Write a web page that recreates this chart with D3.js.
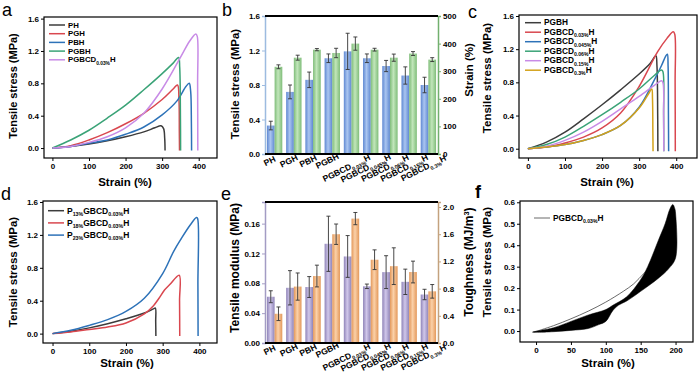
<!DOCTYPE html>
<html>
<head>
<meta charset="utf-8">
<script src="https://cdn.jsdelivr.net/npm/d3@7"></script>
<style>
body { margin: 0; background: #fff; }
svg { font-family: "Liberation Sans", Arial, sans-serif; }
</style>
</head>
<body>
<svg id="fig" width="700" height="385"></svg>
<script>
// ---- panel a: stress-strain curves [strain %, stress MPa]
let aPH    = [[0,0],[50,0.02],[100,0.05],[150,0.09],[200,0.14],[250,0.2],[280,0.25],[297,0.275],[304,0.24],[307,0.12],[308,-0.03]];
let aPGH   = [[0,0],[50,0.03],[100,0.1],[150,0.19],[200,0.3],[250,0.43],[300,0.6],[330,0.73],[342,0.78],[346,0.6],[347,0.2],[347.5,-0.03]];
let aPBH   = [[0,0],[50,0.02],[100,0.06],[150,0.1],[200,0.17],[250,0.26],[300,0.41],[340,0.58],[365,0.76],[374,0.8],[378,0.7],[380,0.3],[380.5,-0.03]];
let aPGBH  = [[0,0],[50,0.1],[100,0.22],[150,0.37],[200,0.53],[250,0.72],[300,0.92],[330,1.05],[345,1.12],[348,1.0],[350,0.4],[350.5,-0.03]];
let aPGBCD = [[0,0],[50,0.02],[100,0.07],[150,0.14],[200,0.25],[250,0.43],[300,0.73],[350,1.12],[375,1.32],[392,1.41],[396,1.38],[397,0.8],[397.5,-0.03]];

// ---- panel c
let cPGBH  = [[0,0],[50,0.08],[100,0.2],[150,0.36],[200,0.53],[250,0.71],[300,0.9],[330,1.03],[345,1.12],[348,1.0],[350,0.4],[350.5,-0.03]];
let c003   = [[0,0],[50,0.02],[100,0.07],[150,0.14],[200,0.25],[250,0.43],[300,0.75],[350,1.17],[375,1.33],[392,1.41],[396,1.38],[397,0.8],[397.5,-0.03]];
let c0045  = [[0,0],[50,0.02],[100,0.05],[150,0.1],[200,0.17],[250,0.28],[300,0.5],[340,0.82],[360,1.0],[372,1.12],[376,1.14],[378,1.0],[379,0.4],[379.5,-0.03]];
let c006   = [[0,0],[50,0.05],[100,0.14],[150,0.27],[200,0.41],[250,0.56],[300,0.72],[340,0.88],[360,0.95],[364,0.93],[366,0.4],[366.5,-0.03]];
let c015   = [[0,0],[50,0.03],[100,0.1],[150,0.2],[200,0.33],[250,0.48],[300,0.63],[340,0.76],[360,0.82],[364,0.8],[366,0.4],[366.5,-0.03]];
let c03    = [[0,0],[50,0.02],[100,0.05],[150,0.1],[200,0.17],[250,0.28],[300,0.49],[325,0.66],[334,0.72],[336,0.6],[337,0.2],[337.5,-0.03]];

// ---- panel d
let dP13 = [[0,0],[50,0.03],[100,0.07],[150,0.12],[200,0.18],[250,0.25],[275,0.3],[280,0.31],[281,0.15],[281.5,-0.03]];
let dP18 = [[0,0],[50,0.02],[100,0.05],[150,0.08],[200,0.13],[250,0.24],[275,0.34],[290,0.43],[305,0.53],[320,0.6],[345,0.71],[346,0.4],[346.5,-0.03]];
let dP23 = [[0,0],[50,0.04],[100,0.1],[150,0.17],[200,0.27],[250,0.43],[300,0.73],[330,1.0],[350,1.15],[375,1.32],[392,1.41],[395,1.4],[396,0.6],[396.5,-0.03]];

// ---- panel f: cyclic test, loading line and envelope of the filled loops
let fLine  = [[-3,-0.005],[25,0.025],[50,0.057],[75,0.093],[100,0.135],[125,0.185],[140,0.22],[155,0.27],[165,0.3]];
let fUpper = [[-5,-0.005],[25,0.015],[50,0.045],[75,0.075],[100,0.1],[110,0.12],[130,0.16],[150,0.24],[160,0.3],[175,0.42],[185,0.5],[192,0.57],[196,0.59],[199,0.57]];
let fLower = [[200,0.55],[200,0.34],[190,0.29],[175,0.245],[150,0.185],[130,0.14],[118,0.12],[110,0.095],[100,0.045],[90,0.03],[75,0.012],[50,0.003],[25,-0.003],[0,-0.006]];

// ---- panels b and e: bar data
let categories = ["PH", "PGH", "PBH", "PGBH", "PGBCD_{0.03%}H", "PGBCD_{0.045%}H", "PGBCD_{0.06%}H", "PGBCD_{0.15%}H", "PGBCD_{0.3%}H"];
let stressMean   = [0.33, 0.72, 0.86, 1.11, 1.19, 1.11, 1.02, 0.91, 0.80];
let stressErr    = [0.05, 0.08, 0.09, 0.05, 0.21, 0.05, 0.065, 0.10, 0.09];
let strainMean   = [316, 349, 378, 366, 400, 378, 349, 364, 342];
let strainErr    = [7, 9, 4, 17, 24, 5, 13, 7, 7];
let modulusMean  = [0.062, 0.074, 0.075, 0.133, 0.116, 0.076, 0.095, 0.082, 0.065];
let modulusErr   = [0.008, 0.023, 0.014, 0.037, 0.028, 0.003, 0.022, 0.017, 0.007];
let toughMean    = [0.43, 0.83, 0.985, 1.6, 1.83, 1.225, 1.13, 1.044, 0.76];
let toughErr     = [0.1, 0.2, 0.16, 0.15, 0.09, 0.145, 0.27, 0.16, 0.1];

let svg = d3.select("#fig");
let defs = svg.append("defs");

function makeGradient(id, edge, mid) {
    let lg = defs.append("linearGradient").attr("id", id)
        .attr("x1", "0").attr("x2", "1").attr("y1", "0").attr("y2", "0");
    lg.append("stop").attr("offset", "0%").attr("stop-color", edge);
    lg.append("stop").attr("offset", "45%").attr("stop-color", mid);
    lg.append("stop").attr("offset", "100%").attr("stop-color", edge);
}
makeGradient("gBlue", "#5f88d2", "#aac5f0");
makeGradient("gGreen", "#7fbd79", "#c2e6bb");
makeGradient("gPurple", "#8f84b8", "#d0c7ea");
makeGradient("gOrange", "#e3985a", "#fbd1a9");

// text with _{sub} and ^{sup} parts
function richText(sel, str, size) {
    let parts = str.split(/([_^])\{([^}]*)\}/);
    let shift = 0;
    for (let i = 0; i < parts.length; i++) {
        if (i % 3 === 0) {
            if (parts[i] === "") continue;
            let t = sel.append("tspan").text(parts[i]);
            if (shift) { t.attr("dy", -shift); shift = 0; }
        } else if (i % 3 === 1) {
            let dy = parts[i] === "_" ? size * 0.3 : -size * 0.38;
            let t = sel.append("tspan").text(parts[i + 1])
                .attr("font-size", size * 0.62).attr("dy", dy - shift);
            shift = dy;
            i++;
        }
    }
}

function styleAxis(g, color) {
    g.attr("font-family", null).attr("font-size", 8).attr("font-weight", "bold");
    g.selectAll(".tick text").attr("fill", "#000");
    g.selectAll(".tick line").attr("stroke", color);
}

function panelLetter(txt, x, y, bold) {
    svg.append("text").attr("x", x).attr("y", y).attr("font-size", 18)
        .attr("font-weight", bold ? "bold" : "normal").text(txt);
}

function yTitle(txt, cx, cy, size) {
    size = size || 11.5;
    let t = svg.append("text")
        .attr("transform", `translate(${cx},${cy}) rotate(-90)`)
        .attr("text-anchor", "middle").attr("dy", "0.35em")
        .attr("font-size", size).attr("font-weight", "bold");
    richText(t, txt, size);
}

function xTitle(txt, cx, cy) {
    svg.append("text").attr("x", cx).attr("y", cy).attr("dy", "0.35em")
        .attr("text-anchor", "middle").attr("font-size", 11.5).attr("font-weight", "bold")
        .text(txt);
}

function drawCurves(cfg) {
    let x = d3.scaleLinear().domain(cfg.xDom).range([cfg.left, cfg.right]);
    let y = d3.scaleLinear().domain(cfg.yDom).range([cfg.bottom, cfg.top]);
    let g = svg.append("g");

    let line = d3.line().x(d => x(d[0])).y(d => y(d[1])).curve(d3.curveCatmullRom.alpha(0.5));
    cfg.series.forEach(s => {
        g.append("path").attr("d", line(s.data))
            .attr("fill", "none").attr("stroke", s.color).attr("stroke-width", s.width || 1.5);
    });
    if (cfg.extra) cfg.extra(g, x, y);

    g.append("g").attr("transform", `translate(0,${cfg.bottom})`)
        .call(d3.axisBottom(x).tickValues(cfg.xTicks).tickSize(3).tickPadding(2).tickFormat(d3.format("d")))
        .call(a => a.select(".domain").remove())
        .call(a => styleAxis(a, "#000"));
    g.append("g").attr("transform", `translate(${cfg.left},0)`)
        .call(d3.axisLeft(y).tickValues(cfg.yTicks).tickSize(3).tickPadding(2).tickFormat(d3.format(".1f")))
        .call(a => a.select(".domain").remove())
        .call(a => styleAxis(a, "#000"));

    g.append("rect").attr("x", cfg.left).attr("y", cfg.top)
        .attr("width", cfg.right - cfg.left).attr("height", cfg.bottom - cfg.top)
        .attr("fill", "none").attr("stroke", "#000").attr("stroke-width", 1.2);

    // legend
    cfg.series.forEach((s, i) => {
        if (!s.label) return;
        let ly = cfg.legY + i * cfg.legStep;
        g.append("line").attr("x1", cfg.legX).attr("x2", cfg.legX + 16)
            .attr("y1", ly).attr("y2", ly).attr("stroke", s.color).attr("stroke-width", s.width || 1.5);
        let t = g.append("text").attr("x", cfg.legX + 19).attr("y", ly).attr("dy", "0.33em")
            .attr("font-size", cfg.legSize).attr("font-weight", "bold");
        richText(t, s.label, cfg.legSize);
    });
}

function drawBars(cfg) {
    let n = categories.length;
    let x = d3.scaleBand().domain(d3.range(n)).range([cfg.left, cfg.right])
        .paddingInner(0.2).paddingOuter(0.1);
    let bw = x.bandwidth() / 2;
    let yL = d3.scaleLinear().domain(cfg.lDom).range([cfg.bottom, cfg.top]);
    let yR = d3.scaleLinear().domain(cfg.rDom).range([cfg.bottom, cfg.top]);
    let g = svg.append("g");

    let sets = [
        { vals: cfg.lVals, errs: cfg.lErr, y: yL, fill: cfg.lFill, k: 0 },
        { vals: cfg.rVals, errs: cfg.rErr, y: yR, fill: cfg.rFill, k: 1 }
    ];
    sets.forEach(s => {
        g.selectAll(null).data(s.vals).join("rect")
            .attr("x", (d, i) => x(i) + s.k * bw).attr("width", bw)
            .attr("y", d => s.y(d)).attr("height", d => cfg.bottom - s.y(d))
            .attr("fill", `url(#${s.fill})`);
    });
    sets.forEach(s => {
        let eb = g.selectAll(null).data(s.vals).join("g")
            .attr("transform", (d, i) => `translate(${x(i) + s.k * bw + bw / 2},0)`)
            .attr("stroke", "#333").attr("stroke-width", 0.9);
        eb.append("line").attr("y1", (d, i) => s.y(d - s.errs[i])).attr("y2", (d, i) => s.y(d + s.errs[i]));
        eb.append("line").attr("x1", -2).attr("x2", 2)
            .attr("y1", (d, i) => s.y(d + s.errs[i])).attr("y2", (d, i) => s.y(d + s.errs[i]));
        eb.append("line").attr("x1", -2).attr("x2", 2)
            .attr("y1", (d, i) => s.y(d - s.errs[i])).attr("y2", (d, i) => s.y(d - s.errs[i]));
    });

    g.append("g").attr("transform", `translate(${cfg.left},0)`)
        .call(d3.axisLeft(yL).tickValues(cfg.lTicks).tickSize(3).tickPadding(2).tickFormat(d3.format(cfg.lFmt)))
        .call(a => a.select(".domain").attr("stroke", cfg.lColor).attr("stroke-width", 1.5))
        .call(a => styleAxis(a, cfg.lColor));
    g.append("g").attr("transform", `translate(${cfg.right},0)`)
        .call(d3.axisRight(yR).tickValues(cfg.rTicks).tickSize(3).tickPadding(2).tickFormat(d3.format(cfg.rFmt)))
        .call(a => a.select(".domain").attr("stroke", cfg.rColor).attr("stroke-width", 1.5))
        .call(a => styleAxis(a, cfg.rColor));

    g.append("line").attr("x1", cfg.left).attr("x2", cfg.right).attr("y1", cfg.top).attr("y2", cfg.top)
        .attr("stroke", "#000").attr("stroke-width", 2);
    g.append("line").attr("x1", cfg.left).attr("x2", cfg.right).attr("y1", cfg.bottom).attr("y2", cfg.bottom)
        .attr("stroke", "#000").attr("stroke-width", 2);

    categories.forEach((c, i) => {
        let hasSub = c.includes("_{");
        let cx = x(i) + x.bandwidth() / 2 - 5;
        let cy = cfg.bottom + 7 + (hasSub ? 7 : 0);
        let t = g.append("text")
            .attr("transform", `translate(${cx},${cy}) rotate(-26)`)
            .attr("text-anchor", "middle").attr("dy", "0.35em")
            .attr("font-size", 8.5).attr("font-weight", "bold");
        richText(t, c, 8.5);
    });
}

let cGray = "#3c3c3c", cRed = "#d9474f", cBlue = "#2d72b8", cGreen = "#3aa377", cViolet = "#c88be6", cGold = "#d3a21a";

// a
drawCurves({
    left: 44, right: 217, top: 17, bottom: 158,
    xDom: [-23, 450], yDom: [-0.123, 1.62],
    xTicks: [0, 100, 200, 300, 400], yTicks: [0, 0.4, 0.8, 1.2, 1.6],
    legX: 49, legY: 25, legStep: 8.7, legSize: 7.8,
    series: [
        { data: aPH, color: cGray, label: "PH" },
        { data: aPGH, color: cRed, label: "PGH" },
        { data: aPBH, color: cBlue, label: "PBH" },
        { data: aPGBH, color: cGreen, label: "PGBH" },
        { data: aPGBCD, color: cViolet, label: "PGBCD_{0.03%}H" }
    ]
});

// c
drawCurves({
    left: 519, right: 697, top: 15, bottom: 158,
    xDom: [-24, 456], yDom: [-0.112, 1.612],
    xTicks: [0, 100, 200, 300, 400], yTicks: [0, 0.4, 0.8, 1.2, 1.6],
    legX: 525, legY: 22.7, legStep: 9.5, legSize: 8.3,
    series: [
        { data: cPGBH, color: cGray, label: "PGBH" },
        { data: c003, color: cRed, label: "PGBCD_{0.03%}H" },
        { data: c0045, color: cBlue, label: "PGBCD_{0.045%}H" },
        { data: c006, color: cGreen, label: "PGBCD_{0.06%}H" },
        { data: c015, color: cViolet, label: "PGBCD_{0.15%}H" },
        { data: c03, color: cGold, label: "PGBCD_{0.3%}H" }
    ]
});

// d
drawCurves({
    left: 43, right: 217, top: 201, bottom: 343,
    xDom: [-26, 448], yDom: [-0.114, 1.612],
    xTicks: [0, 100, 200, 300, 400], yTicks: [0, 0.4, 0.8, 1.2, 1.6],
    legX: 48, legY: 210.7, legStep: 12.2, legSize: 8.5,
    series: [
        { data: dP13, color: cGray, label: "P_{13%}GBCD_{0.03%}H" },
        { data: dP18, color: cRed, label: "P_{18%}GBCD_{0.03%}H" },
        { data: dP23, color: cBlue, label: "P_{23%}GBCD_{0.03%}H" }
    ]
});

// f
drawCurves({
    left: 520, right: 693, top: 201, bottom: 342,
    xDom: [-23, 225], yDom: [-0.051, 0.606],
    xTicks: [0, 50, 100, 150, 200], yTicks: [0, 0.1, 0.2, 0.3, 0.4, 0.5, 0.6],
    legX: 534, legY: 218, legStep: 0, legSize: 8.3,
    series: [
        { data: fLine, color: "#444", width: 0.8, label: "PGBCD_{0.03%}H" }
    ],
    extra: (g, x, y) => {
        let loop = d3.line().x(d => x(d[0])).y(d => y(d[1])).curve(d3.curveCatmullRomClosed.alpha(0.5));
        g.append("path").attr("d", loop(fUpper.concat(fLower))).attr("fill", "#000").attr("stroke", "#000").attr("stroke-width", 0.5);
    }
});

// b
drawBars({
    left: 265, right: 438, top: 16, bottom: 154,
    lDom: [0, 1.6], rDom: [0, 500],
    lVals: stressMean, lErr: stressErr, rVals: strainMean, rErr: strainErr,
    lFill: "gBlue", rFill: "gGreen",
    lTicks: [0, 0.4, 0.8, 1.2, 1.6], rTicks: [0, 100, 200, 300, 400, 500],
    lFmt: ".1f", rFmt: "d",
    lColor: "#9dbbe0", rColor: "#72b06e"
});

// e
drawBars({
    left: 265, right: 438, top: 202, bottom: 343,
    lDom: [0, 0.189], rDom: [0, 2.074],
    lVals: modulusMean, lErr: modulusErr, rVals: toughMean, rErr: toughErr,
    lFill: "gPurple", rFill: "gOrange",
    lTicks: [0, 0.04, 0.08, 0.12, 0.16], rTicks: [0, 0.4, 0.8, 1.2, 1.6, 2.0],
    lFmt: ".2f", rFmt: ".1f",
    lColor: "#a39cc4", rColor: "#c4a27e"
});

// titles
yTitle("Tensile stress (MPa)", 13, 86, 11);
xTitle("Strain (%)", 125, 182);
yTitle("Tensile stress (MPa)", 235, 84);
yTitle("Strain (%)", 469, 70);
yTitle("Tensile stress (MPa)", 487, 78);
xTitle("Strain (%)", 607, 182);
yTitle("Tensile stress (MPa)", 13, 272);
xTitle("Strain (%)", 127, 363);
yTitle("Tensile modulus (MPa)", 235, 268, 12);
yTitle("Toughness (MJ/m^{3})", 469, 262, 12);
yTitle("Tensile stress (MPa)", 487, 262);
xTitle("Strain (%)", 608, 363);

panelLetter("a", 2, 15.5);
panelLetter("b", 222, 15.5);
panelLetter("c", 468, 18);
panelLetter("d", 1, 200);
panelLetter("e", 221, 200);
panelLetter("f", 475, 198, true);
</script>
</body>
</html>
